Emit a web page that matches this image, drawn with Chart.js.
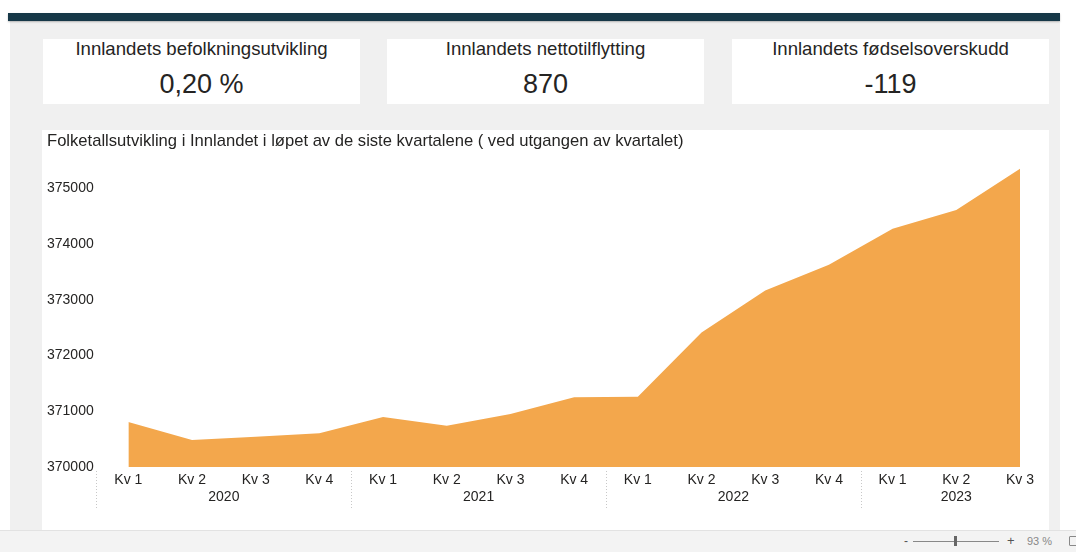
<!DOCTYPE html>
<html><head><meta charset="utf-8">
<script src="https://cdn.jsdelivr.net/npm/chart.js@4.4.0/dist/chart.umd.min.js"></script>
<style>
html,body{margin:0;padding:0;width:1076px;height:552px;overflow:hidden;background:#fff;font-family:"Liberation Sans",Arial,sans-serif;}
#topbar{position:absolute;left:8px;top:13px;width:1052px;height:8px;background:#163848;box-shadow:0 1px 2px rgba(0,0,0,0.25);z-index:2;}
#bg{position:absolute;left:10px;top:21px;width:1050px;height:509px;background:#f0f0f0;}
.card{position:absolute;top:39px;width:317px;height:65px;background:#fff;color:#252423;text-align:center;}
.card .t{position:absolute;left:0;right:0;top:0;height:20px;line-height:20px;font-size:18.6px;white-space:nowrap;}
.card .v{position:absolute;left:0;right:0;top:30px;height:30px;line-height:30px;font-size:27px;white-space:nowrap;}
#panel{position:absolute;left:42px;top:130px;width:1007px;height:400px;background:#fff;}
#ctitle{position:absolute;left:5px;top:2px;font-size:16.6px;line-height:18px;color:#252423;white-space:nowrap;}
#cwrap{position:absolute;left:0;top:0;width:1007px;height:400px;}
#status{position:absolute;left:0;top:530px;width:1076px;height:22px;background:#f3f3f3;border-top:1px solid #e2e2e2;box-sizing:border-box;color:#666;font-size:11px;}
</style>
</head><body>
<div id="topbar"></div>
<div id="bg"></div>
<div class="card" style="left:43px"><div class="t">Innlandets befolkningsutvikling</div><div class="v">0,20 %</div></div>
<div class="card" style="left:387px"><div class="t">Innlandets nettotilflytting</div><div class="v">870</div></div>
<div class="card" style="left:732px"><div class="t">Innlandets fødselsoverskudd</div><div class="v">-119</div></div>
<div id="panel">
  <div id="cwrap"><canvas id="c" width="1007" height="400"></canvas></div>
  <div id="ctitle">Folketallsutvikling i Innlandet i løpet av de siste kvartalene ( ved utgangen av kvartalet)</div>
</div>
<div id="status">
  <span style="position:absolute;left:904px;top:3px;font-size:12px;color:#555">-</span>
  <div style="position:absolute;left:913px;top:10px;width:86px;height:1px;background:#888"></div>
  <div style="position:absolute;left:954px;top:5px;width:3px;height:10px;background:#666"></div>
  <span style="position:absolute;left:1007px;top:2px;font-size:13px;color:#555">+</span>
  <span style="position:absolute;left:1027px;top:4px;color:#888">93 %</span>
  <div style="position:absolute;left:1069px;top:5px;width:10px;height:10px;border:1px solid #888;box-sizing:border-box;border-radius:1px"></div>
</div>
<script>
const quarters = ['Kv 1','Kv 2','Kv 3','Kv 4','Kv 1','Kv 2','Kv 3','Kv 4','Kv 1','Kv 2','Kv 3','Kv 4','Kv 1','Kv 2','Kv 3'];
const years = ['2020','2020','2020','2020','2021','2021','2021','2021','2022','2022','2022','2022','2023','2023','2023'];
const population = [370808,370485,370544,370605,370898,370741,370952,371251,371262,372411,373165,373627,374273,374609,375350];
const yTicks = [370000,371000,372000,373000,374000,375000];
const yMin = 370000, yMax = 375400;

const textColor = '#252423';
const fontFamily = '"Liberation Sans", Arial, sans-serif';

const yearPlugin = {
  id: 'yearGroups',
  afterDraw(chart) {
    const ctx = chart.ctx;
    const xs = chart.scales.x;
    const step = xs.getPixelForValue(1) - xs.getPixelForValue(0);
    const base = chart.scales.y.getPixelForValue(yMin);
    ctx.save();
    let start = 0;
    for (let i = 1; i <= years.length; i++) {
      if (i === years.length || years[i] !== years[start]) {
        const x0 = xs.getPixelForValue(start), x1 = xs.getPixelForValue(i - 1);
        const sx = Math.round(x0 - step / 2) + 0.5;
        ctx.strokeStyle = '#c8c8c8';
        ctx.lineWidth = 1;
        ctx.setLineDash([1, 2]);
        ctx.beginPath();
        ctx.moveTo(sx, base + 4);
        ctx.lineTo(sx, base + 41);
        ctx.stroke();
        ctx.setLineDash([]);
        ctx.fillStyle = textColor;
        ctx.font = '14px ' + fontFamily;
        ctx.textAlign = 'center';
        ctx.textBaseline = 'middle';
        ctx.fillText(years[start], (x0 + x1) / 2, base + 30);
        start = i;
      }
    }
    ctx.restore();
  }
};

new Chart(document.getElementById('c'), {
  type: 'line',
  data: {
    labels: quarters,
    datasets: [{
      data: population,
      fill: 'start',
      backgroundColor: 'rgb(243,167,76)',
      borderColor: 'rgb(243,167,76)',
      borderWidth: 0,
      pointRadius: 0,
      tension: 0
    }]
  },
  options: {
    responsive: false,
    animation: false,
    events: [],
    layout: { autoPadding: false, padding: { left: 5, right: 29, top: 36, bottom: 0 } },
    plugins: { legend: { display: false }, tooltip: { enabled: false } },
    scales: {
      x: {
        grid: { display: false, drawTicks: false },
        border: { display: false },
        ticks: { color: textColor, font: { size: 14, family: fontFamily }, padding: 5, maxRotation: 0, autoSkip: false },
        afterFit(s) { s.height = 63; }
      },
      y: {
        min: yMin, max: yMax,
        grid: { display: false, drawTicks: false },
        border: { display: false },
        afterBuildTicks(s) { s.ticks = yTicks.map(v => ({ value: v })); },
        ticks: { color: textColor, font: { size: 14, family: fontFamily }, crossAlign: 'far', padding: 0, callback: v => String(v) },
        afterFit(s) { s.width = 81.3; }
      }
    }
  },
  plugins: [yearPlugin]
});
</script>
</body></html>
